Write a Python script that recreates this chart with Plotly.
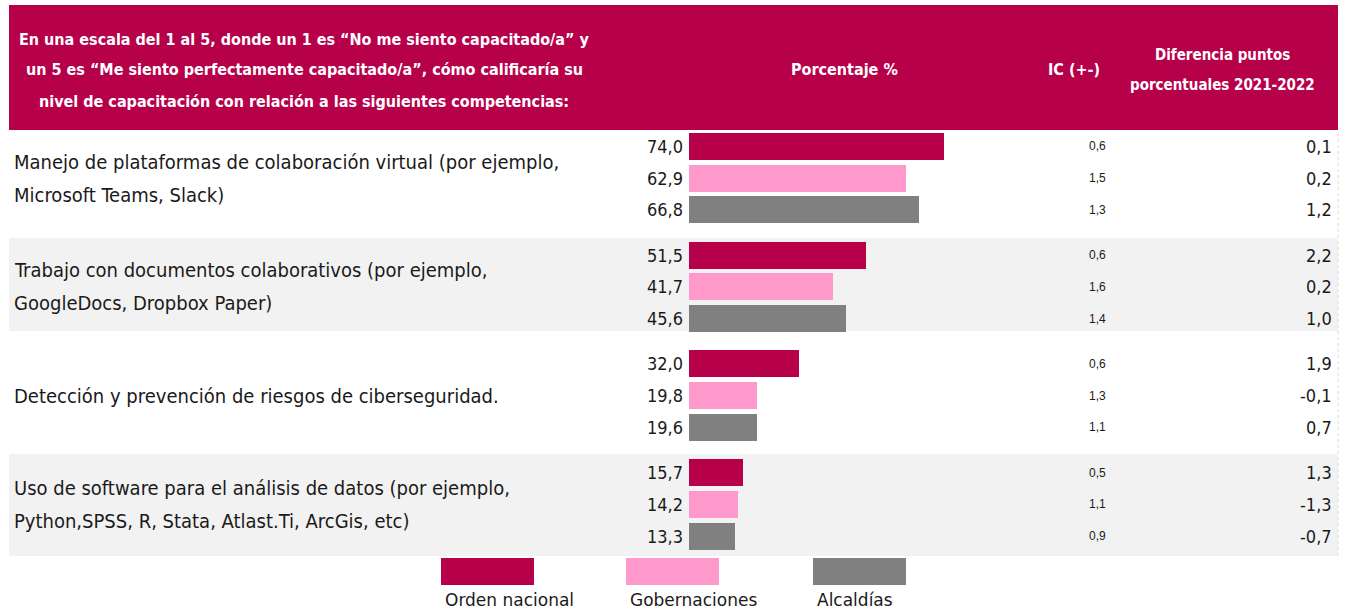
import plotly.graph_objects as go

# ---------------- data ----------------
categories = [
    "Manejo de plataformas de colaboración virtual (por ejemplo,<br>Microsoft Teams, Slack)",
    "Trabajo con documentos colaborativos (por ejemplo,<br>GoogleDocs, Dropbox Paper)",
    "Detección y prevención de riesgos de ciberseguridad.",
    "Uso de software para el análisis de datos (por ejemplo,<br>Python,SPSS, R, Stata, Atlast.Ti, ArcGis, etc)",
]
series_names = ["Orden nacional", "Gobernaciones", "Alcaldías"]
orden_nacional = [74.0, 51.5, 32.0, 15.7]
gobernaciones = [62.9, 41.7, 19.8, 14.2]
alcaldias = [66.8, 45.6, 19.6, 13.3]
ic_orden = [0.6, 0.6, 0.6, 0.5]
ic_gober = [1.5, 1.6, 1.3, 1.1]
ic_alcal = [1.3, 1.4, 1.1, 0.9]
dif_orden = [0.1, 2.2, 1.9, 1.3]
dif_gober = [0.2, 0.2, -0.1, -1.3]
dif_alcal = [1.2, 1.0, 0.7, -0.7]
header_question = [
    "En una escala del 1 al 5, donde un 1 es “No me siento capacitado/a” y",
    "un 5 es “Me siento perfectamente capacitado/a”, cómo calificaría su",
    "nivel de capacitación con relación a las siguientes competencias:",
]
header_pct = "Porcentaje %"
header_ic = "IC (+-)"
header_dif = ["Diferencia puntos", "porcentuales 2021-2022"]

# ---------------- style / layout ----------------
W, H = 1347, 609
CRIMSON = "#B7004A"
PINK = "#FF99CC"
GREY = "#808080"
ROWBG = "#F2F2F2"
colors = [CRIMSON, PINK, GREY]
NARROW = "Liberation Sans Narrow, DejaVu Sans Condensed, Arial Narrow, sans-serif"

values = [orden_nacional, gobernaciones, alcaldias]
ics = [ic_orden, ic_gober, ic_alcal]
difs = [dif_orden, dif_gober, dif_alcal]

GAP = 1.42          # extra spacing between groups (in bar units)
UNIT_PX = 31.8      # pixels per bar unit
FIRST_PX = 146.3    # pixel centre of first bar
TOP_PX, BOT_PX = 130, 556
X0_PX = 689
PX_PER_PCT = 3.446


def ypos(g, j):
    return g * (2 + GAP) + j


def py(px):
    return 1 - px / H


def px_x(px):
    return px / W


def fmt(v):
    return f"{v:.1f}".replace(".", ",")


fig = go.Figure()

for j, (name, vals, col) in enumerate(zip(series_names, values, colors)):
    fig.add_trace(go.Bar(
        y=[ypos(g, j) for g in range(len(vals))],
        x=vals,
        orientation="h",
        width=0.85,
        marker=dict(color=col, line=dict(width=0)),
        name=name,
        showlegend=False,
        hoverinfo="x",
    ))

shapes = []
annotations = []

# row backgrounds
row_bounds = [(130, 238), (238, 331), (331, 454), (454, 556)]
for i, (a, b) in enumerate(row_bounds):
    if i % 2 == 1:
        shapes.append(dict(type="rect", xref="paper", yref="paper",
                           x0=px_x(9), x1=px_x(1338), y0=py(b), y1=py(a),
                           fillcolor=ROWBG, line=dict(width=0), layer="below"))

# header band
shapes.append(dict(type="rect", xref="paper", yref="paper",
                   x0=px_x(9), x1=px_x(1338), y0=py(130), y1=py(5),
                   fillcolor=CRIMSON, line=dict(width=0), layer="below"))

# dotted right border
shapes.append(dict(type="line", xref="paper", yref="paper",
                   x0=px_x(1338), x1=px_x(1338), y0=py(556), y1=py(130),
                   line=dict(color="#D9D9D9", width=1, dash="dot")))

HF = 16
# header texts
for k, line in enumerate(header_question):
    annotations.append(dict(xref="paper", yref="paper", x=px_x(304), y=py(39 + 31 * k),
                            text=f"<b>{line}</b>", showarrow=False, xanchor="center",
                            yanchor="middle", font=dict(family=NARROW, size=HF, color="white")))
annotations.append(dict(xref="paper", yref="paper", x=px_x(844), y=py(70),
                        text=f"<b>{header_pct}</b>", showarrow=False, xanchor="center",
                        yanchor="middle", font=dict(family=NARROW, size=HF, color="white")))
annotations.append(dict(xref="paper", yref="paper", x=px_x(1074), y=py(70),
                        text=f"<b>{header_ic}</b>", showarrow=False, xanchor="center",
                        yanchor="middle", font=dict(family=NARROW, size=HF, color="white")))
for k, line in enumerate(header_dif):
    annotations.append(dict(xref="paper", yref="paper", x=px_x(1222), y=py(55 + 30 * k),
                            text=f"<b>{line}</b>", showarrow=False, xanchor="center",
                            yanchor="middle", font=dict(family=NARROW, size=15, color="white")))

# category labels
for g, cat in enumerate(categories):
    lines = cat.split("<br>")
    n = len(lines)
    for k, line in enumerate(lines):
        shift = (n - 1) / 2 * 33 - k * 33
        annotations.append(dict(xref="paper", yref="y", x=px_x(12), y=ypos(g, 1),
                                yshift=shift, text=line, showarrow=False,
                                xanchor="left", yanchor="middle",
                                font=dict(family=NARROW, size=20, color="#1a1a1a")))

# value, IC and difference labels
for j in range(3):
    for g in range(len(categories)):
        yy = ypos(g, j)
        annotations.append(dict(xref="x", yref="y", x=0, y=yy, xshift=-4,
                                text=fmt(values[j][g]), showarrow=False,
                                xanchor="right", yanchor="middle",
                                font=dict(family=NARROW, size=18, color="#1a1a1a")))
        annotations.append(dict(xref="paper", yref="y", x=px_x(1097), y=yy,
                                text=fmt(ics[j][g]), showarrow=False,
                                xanchor="center", yanchor="middle",
                                font=dict(family="Liberation Sans, Arial, sans-serif", size=12, color="#1a1a1a")))
        annotations.append(dict(xref="paper", yref="y", x=px_x(1334), y=yy,
                                text=fmt(difs[j][g]), showarrow=False,
                                xanchor="right", yanchor="middle",
                                font=dict(family=NARROW, size=18, color="#1a1a1a")))

# manual legend
legend_left = [441, 626, 813]
for name, col, lx in zip(series_names, colors, legend_left):
    shapes.append(dict(type="rect", xref="paper", yref="paper",
                       x0=px_x(lx), x1=px_x(lx + 93), y0=py(585), y1=py(558),
                       fillcolor=col, line=dict(width=0)))
    annotations.append(dict(xref="paper", yref="paper", x=px_x(lx + 2), y=py(600),
                            text=name, showarrow=False, xanchor="left", yanchor="middle",
                            font=dict(family="DejaVu Sans, Verdana, sans-serif", size=17, color="#1a1a1a")))

y_top = -(FIRST_PX - TOP_PX) / UNIT_PX
y_bot = (BOT_PX - FIRST_PX) / UNIT_PX

fig.update_layout(
    width=W, height=H, autosize=False,
    margin=dict(l=0, r=0, t=0, b=0),
    paper_bgcolor="white", plot_bgcolor="rgba(0,0,0,0)",
    xaxis=dict(domain=[0, 1], range=[-X0_PX / PX_PER_PCT, (W - X0_PX) / PX_PER_PCT],
               visible=False, fixedrange=True),
    yaxis=dict(domain=[py(BOT_PX), py(TOP_PX)], range=[y_bot, y_top],
               visible=False, fixedrange=True),
    shapes=shapes,
    annotations=annotations,
    bargap=0,
    showlegend=False,
)

fig.write_html(
    "out.html",
    config={"displayModeBar": False},
    post_script="document.body.style.margin='0';document.body.style.overflow='hidden';",
)
